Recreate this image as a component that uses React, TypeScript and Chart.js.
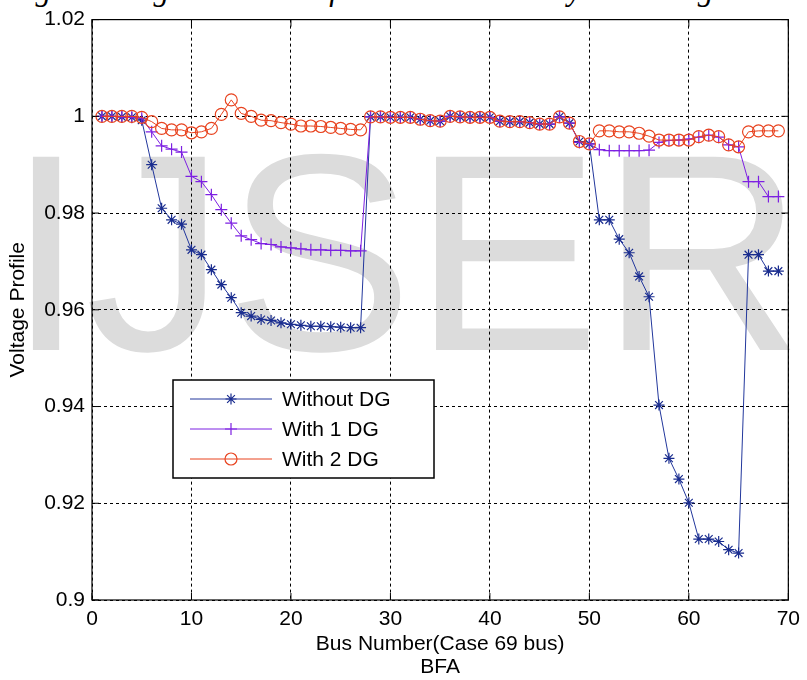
import React, { useEffect, useRef } from 'react';
import { Chart, registerables } from 'chart.js';

Chart.register(...registerables);

const busNumbers = [
  1, 2, 3, 4, 5, 6, 7, 8, 9, 10, 11, 12, 13, 14, 15, 16, 17, 18, 19, 20,
  21, 22, 23, 24, 25, 26, 27, 28, 29, 30, 31, 32, 33, 34, 35, 36, 37, 38, 39, 40,
  41, 42, 43, 44, 45, 46, 47, 48, 49, 50, 51, 52, 53, 54, 55, 56, 57, 58, 59, 60,
  61, 62, 63, 64, 65, 66, 67, 68, 69,
];

const withoutDG = [
  1.0, 1.0, 0.9999, 0.9998, 0.9992, 0.99, 0.981, 0.9786, 0.9777, 0.9724,
  0.9714, 0.9683, 0.9652, 0.9625, 0.9594, 0.9587, 0.958, 0.9578, 0.9573, 0.957,
  0.9568, 0.9566, 0.9566, 0.9565, 0.9564, 0.9563, 0.9563, 0.9999, 0.9999, 0.9998,
  0.9998, 0.9998, 0.9994, 0.9991, 0.999, 1.0, 0.9999, 0.9998, 0.9998, 0.9998,
  0.999, 0.9989, 0.9989, 0.9987, 0.9984, 0.9984, 0.9999, 0.9986, 0.9948, 0.9943,
  0.9786, 0.9786, 0.9746, 0.9718, 0.9669, 0.9627, 0.9403, 0.9293, 0.925, 0.9201,
  0.9126, 0.9126, 0.9121, 0.9104, 0.9097, 0.9714, 0.9714, 0.968, 0.968,
];

const with1DG = [
  1.0, 1.0, 0.9999, 0.9998, 0.9996, 0.9968, 0.9939, 0.9932, 0.9926, 0.9876,
  0.9865, 0.9838, 0.9807, 0.9779, 0.9753, 0.9745, 0.9737, 0.9735, 0.973, 0.9728,
  0.9726, 0.9724, 0.9724, 0.9723, 0.9723, 0.9722, 0.9722, 0.9999, 0.9999, 0.9998,
  0.9998, 0.9998, 0.9994, 0.9991, 0.999, 1.0, 0.9999, 0.9998, 0.9998, 0.9998,
  0.999, 0.9989, 0.9989, 0.9987, 0.9984, 0.9984, 0.9999, 0.9986, 0.9946, 0.9943,
  0.9931, 0.9929, 0.9929, 0.9929, 0.9929, 0.993, 0.9946, 0.995, 0.9951, 0.9953,
  0.9957, 0.9961, 0.9957, 0.9941, 0.9937, 0.9865, 0.9865, 0.9834, 0.9834,
];

const with2DG = [
  1.0, 1.0, 1.0, 1.0, 0.9998, 0.9989, 0.9975, 0.9972, 0.9972, 0.9966,
  0.9968, 0.9975, 1.0004, 1.0034, 1.0006, 1.0, 0.9992, 0.9991, 0.9987, 0.9984,
  0.998, 0.998, 0.9979, 0.9977, 0.9975, 0.9973, 0.9972, 0.9999, 0.9999, 0.9998,
  0.9998, 0.9998, 0.9994, 0.9991, 0.999, 1.0, 0.9999, 0.9998, 0.9998, 0.9998,
  0.999, 0.9989, 0.9989, 0.9987, 0.9984, 0.9984, 0.9999, 0.9986, 0.9948, 0.9943,
  0.997, 0.997, 0.9968, 0.9968, 0.9965, 0.9959, 0.9951, 0.9951, 0.9951, 0.9951,
  0.9958, 0.9961, 0.9958, 0.9941, 0.9937, 0.9968, 0.997, 0.997, 0.997,
];

const seriesNames = ['Without DG', 'With 1 DG', 'With 2 DG'];
const xTitle = ['Bus Number(Case 69 bus)', 'BFA'];
const yTitle = 'Voltage Profile';
const watermark = 'IJSER';
const caption = 'Fig. 4 Voltage deviation of the IEEE 69 bus system using DG';

const FONT = '"Liberation Sans", Arial, Helvetica, sans-serif';
const BLUE = '#22379c';
const BLUE_MK = '#1a2d8f';
const PURPLE = '#7d20e2';
const RED = '#e8431f';

function toPoints(values: number[]) {
  return values.map((v, i) => ({ x: busNumbers[i], y: v }));
}

function drawMarker(ctx: CanvasRenderingContext2D, kind: string, x: number, y: number, r: number, color: string) {
  ctx.save();
  ctx.strokeStyle = color;
  ctx.lineWidth = 1.2;
  ctx.beginPath();
  if (kind === 'star') {
    ctx.moveTo(x - r, y); ctx.lineTo(x + r, y);
    ctx.moveTo(x, y - r); ctx.lineTo(x, y + r);
    const d = r * 0.7071;
    ctx.moveTo(x - d, y - d); ctx.lineTo(x + d, y + d);
    ctx.moveTo(x - d, y + d); ctx.lineTo(x + d, y - d);
  } else if (kind === 'cross') {
    ctx.moveTo(x - r, y); ctx.lineTo(x + r, y);
    ctx.moveTo(x, y - r); ctx.lineTo(x, y + r);
  } else {
    ctx.arc(x, y, r, 0, Math.PI * 2);
  }
  ctx.stroke();
  ctx.restore();
}

const watermarkPlugin = {
  id: 'watermark',
  beforeDraw(chart: any) {
    const ctx = chart.ctx;
    ctx.save();
    ctx.font = `281px ${FONT}`;
    ctx.fillStyle = '#dcdcdc';
    ctx.textAlign = 'left';
    ctx.textBaseline = 'alphabetic';
    ctx.fillText(watermark, 7, 350);
    ctx.restore();
  },
};

const framePlugin = {
  id: 'frame',
  afterDraw(chart: any) {
    const ctx = chart.ctx;
    const { left, right, top, bottom } = chart.chartArea;
    const xs = chart.scales.x;
    const ys = chart.scales.y;
    ctx.save();
    ctx.strokeStyle = '#000';
    ctx.lineWidth = 1.2;
    ctx.strokeRect(left, top, right - left, bottom - top);
    const tl = 7;
    ctx.beginPath();
    xs.ticks.forEach((t: any) => {
      const px = xs.getPixelForValue(t.value);
      ctx.moveTo(px, bottom); ctx.lineTo(px, bottom - tl);
      ctx.moveTo(px, top); ctx.lineTo(px, top + tl);
    });
    ys.ticks.forEach((t: any) => {
      const py = ys.getPixelForValue(t.value);
      ctx.moveTo(left, py); ctx.lineTo(left + tl, py);
      ctx.moveTo(right, py); ctx.lineTo(right - tl, py);
    });
    ctx.lineWidth = 1;
    ctx.stroke();

    // legend
    const bx = 173, by = 380, bw = 261, bh = 98;
    ctx.fillStyle = '#ffffff';
    ctx.fillRect(bx, by, bw, bh);
    ctx.lineWidth = 1.5;
    ctx.strokeStyle = '#000';
    ctx.strokeRect(bx, by, bw, bh);
    const rows = [
      { name: seriesNames[0], line: BLUE, mk: BLUE_MK, kind: 'star', r: 5.5 },
      { name: seriesNames[1], line: PURPLE, mk: PURPLE, kind: 'cross', r: 6 },
      { name: seriesNames[2], line: RED, mk: RED, kind: 'circle', r: 6 },
    ];
    rows.forEach((row, i) => {
      const y = 399 + i * 30;
      ctx.beginPath();
      ctx.strokeStyle = row.line;
      ctx.lineWidth = 1;
      ctx.moveTo(190, y);
      ctx.lineTo(272, y);
      ctx.stroke();
      drawMarker(ctx, row.kind, 231, y, row.r, row.mk);
      ctx.fillStyle = '#000';
      ctx.font = `21px ${FONT}`;
      ctx.textAlign = 'left';
      ctx.textBaseline = 'middle';
      ctx.fillText(row.name, 282, y + 1);
    });
    ctx.restore();
  },
};

export default function App() {
  const canvasRef = useRef<HTMLCanvasElement | null>(null);

  useEffect(() => {
    const canvas = canvasRef.current;
    if (!canvas) return;
    const chart = new Chart(canvas, {
      type: 'line',
      data: {
        datasets: [
          {
            label: seriesNames[0],
            data: toPoints(withoutDG),
            borderColor: BLUE,
            borderWidth: 1,
            pointStyle: 'star',
            pointRadius: 5.5,
            pointBorderWidth: 1.2,
            pointBorderColor: BLUE_MK,
            pointBackgroundColor: BLUE_MK,
            fill: false,
            tension: 0,
            order: 3,
          },
          {
            label: seriesNames[1],
            data: toPoints(with1DG),
            borderColor: PURPLE,
            borderWidth: 1,
            pointStyle: 'cross',
            pointRadius: 6,
            pointBorderWidth: 1.2,
            pointBorderColor: PURPLE,
            pointBackgroundColor: PURPLE,
            fill: false,
            tension: 0,
            order: 2,
          },
          {
            label: seriesNames[2],
            data: toPoints(with2DG),
            borderColor: RED,
            borderWidth: 1,
            pointStyle: 'circle',
            pointRadius: 6,
            pointBorderWidth: 1.2,
            pointBorderColor: RED,
            pointBackgroundColor: 'rgba(0,0,0,0)',
            fill: false,
            tension: 0,
            order: 1,
          },
        ],
      },
      options: {
        animation: false,
        responsive: false,
        maintainAspectRatio: false,
        devicePixelRatio: 1,
        layout: { padding: { top: 19, right: 15, bottom: 0, left: 0 } },
        plugins: {
          legend: { display: false },
          tooltip: { enabled: false },
        },
        scales: {
          x: {
            type: 'linear',
            min: 0,
            max: 70,
            ticks: {
              stepSize: 10,
              color: '#000',
              padding: 7,
              font: { family: FONT, size: 21 },
            },
            grid: { color: '#000', lineWidth: 1, drawTicks: false },
            border: { display: false, dash: [3, 3] },
            title: {
              display: true,
              text: xTitle,
              color: '#000',
              font: { family: FONT, size: 21, lineHeight: 1.1 },
              padding: { top: 0, bottom: 1.5 },
            },
            afterFit: (s: any) => { s.height = 80; },
          },
          y: {
            type: 'linear',
            min: 0.9,
            max: 1.02,
            ticks: {
              stepSize: 0.02,
              color: '#000',
              padding: 7,
              font: { family: FONT, size: 21 },
              callback: (v: any) => String(Number(Number(v).toFixed(2))),
            },
            grid: { color: '#000', lineWidth: 1, drawTicks: false },
            border: { display: false, dash: [3, 3] },
            title: {
              display: true,
              text: yTitle,
              color: '#000',
              font: { family: FONT, size: 21, lineHeight: 1.1 },
              padding: { top: 7, bottom: 0 },
            },
            afterFit: (s: any) => { s.width = 92; },
          },
        },
      },
      plugins: [watermarkPlugin, framePlugin],
    } as any);
    return () => chart.destroy();
  }, []);

  return (
    <div style={{ position: 'absolute', left: 0, top: 0, width: 807, height: 680, background: '#fff', overflow: 'hidden' }}>
      <div
        style={{
          position: 'absolute',
          left: 8,
          top: -24,
          whiteSpace: 'nowrap',
          fontFamily: '"Liberation Serif", "Times New Roman", serif',
          fontStyle: 'italic',
          fontSize: 31,
          lineHeight: '28px',
          color: '#000',
        }}
      >
        {caption}
      </div>
      <canvas ref={canvasRef} width={807} height={680} style={{ position: 'absolute', left: 0, top: 0, width: 807, height: 680 }} />
    </div>
  );
}
